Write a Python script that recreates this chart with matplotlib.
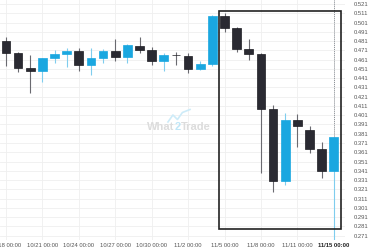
import matplotlib
matplotlib.use("Agg")
import matplotlib.pyplot as plt
from matplotlib.patches import Rectangle
import numpy as np

# daily candles, 10/18 .. 11/14
dates = ["10/18", "10/19", "10/20", "10/21", "10/22", "10/23", "10/24", "10/25",
         "10/26", "10/27", "10/28", "10/29", "10/30", "10/31", "11/1", "11/2",
         "11/3", "11/4", "11/5", "11/6", "11/7", "11/8", "11/9", "11/10",
         "11/11", "11/12", "11/13", "11/14"]
opens = [0.4811, 0.4678, 0.4520, 0.4484, 0.4631, 0.4674, 0.4703, 0.4549,
         0.4624, 0.4703, 0.4635, 0.4760, 0.4714, 0.4598, 0.4660, 0.4646,
         0.4509, 0.4563, 0.5084, 0.4948, 0.4725, 0.4667, 0.4074, 0.3304,
         0.3955, 0.3851, 0.3643, 0.3412]
highs = [0.4857, 0.4689, 0.4660, 0.4628, 0.4714, 0.4735, 0.4739, 0.4735,
         0.4725, 0.4832, 0.4775, 0.4851, 0.4746, 0.4685, 0.4692, 0.4678,
         0.4595, 0.5091, 0.5113, 0.4959, 0.4832, 0.4678, 0.4117, 0.4037,
         0.4020, 0.3894, 0.3725, 0.3772]
lows = [0.4544, 0.4480, 0.4247, 0.4369, 0.4577, 0.4534, 0.4491, 0.4447,
        0.4577, 0.4598, 0.4577, 0.4678, 0.4549, 0.4491, 0.4552, 0.4462,
        0.4498, 0.4544, 0.4905, 0.4689, 0.4603, 0.3390, 0.3185, 0.3258,
        0.3671, 0.3599, 0.3336, 0.3412]
closes = [0.4678, 0.4523, 0.4487, 0.4628, 0.4671, 0.4703, 0.4549, 0.4624,
          0.4703, 0.4635, 0.4764, 0.4717, 0.4598, 0.4657, 0.4655, 0.4512,
          0.4560, 0.5081, 0.4948, 0.4725, 0.4667, 0.4074, 0.3304, 0.3955,
          0.3894, 0.3646, 0.3412, 0.3772]

tick_days = [0, 3, 6, 9, 12, 15, 18, 21, 24]
tick_labels = ["10/18 00:00", "10/21 00:00", "10/24 00:00", "10/27 00:00",
               "10/30 00:00", "11/2 00:00", "11/5 00:00", "11/8 00:00", "11/11 00:00"]
now_label = "11/15 00:00"

# highlighted pattern region
box_start, box_end = 17.55, 27.6
box_top, box_bottom = 0.5134, 0.2783

y_ticks = np.arange(0.271, 0.5215, 0.01)

UP = "#1aa7e0"
DOWN = "#2a2a32"
UP_WICK = "#7fcdee"
DOWN_WICK = "#6a6a70"

fig = plt.figure(figsize=(3.8, 2.5), dpi=100)
ax = fig.add_axes([0, 0.04, 345 / 380, 0.96])

x = np.arange(len(dates))
o = np.array(opens)
c = np.array(closes)
up = c >= o

ax.vlines(x, lows, highs, colors=np.where(up, UP_WICK, DOWN_WICK), linewidth=0.8, zorder=2)
ax.bar(x, np.maximum(np.abs(c - o), 0.0004), bottom=np.minimum(o, c), width=0.72,
       color=np.where(up, UP, DOWN), edgecolor=np.where(up, UP, "#1c1c22"),
       linewidth=0.5, zorder=3)

# current time marker
last = x[-1]
ax.axvline(last, color="#8a8f96", linestyle=(0, (1, 1)), linewidth=0.7, zorder=1)
ax.vlines(last, 0.2664, min(opens[-1], closes[-1]), color=UP_WICK, linewidth=0.8, zorder=2)

ax.add_patch(Rectangle((box_start, box_bottom), box_end - box_start, box_top - box_bottom,
                       fill=False, edgecolor="#222222", linewidth=1.2, zorder=4))

ax.set_xlim(-0.49, 27.92)
ax.set_ylim(0.2664, 0.5253)

ax.set_xticks(tick_days + [last])
ax.set_xticklabels(tick_labels + [now_label])
ax.set_yticks(y_ticks)
ax.set_yticklabels([f"{v:.3f}" for v in y_ticks])
ax.yaxis.tick_right()
ax.tick_params(axis="both", length=0, labelsize=4.2, labelcolor="#555555")
ax.tick_params(axis="x", pad=2)
ax.tick_params(axis="y", pad=6)
for lab in ax.get_xticklabels() + ax.get_yticklabels():
    lab.set_fontfamily("Liberation Sans")
ax.get_xticklabels()[-1].set_fontweight("bold")
ax.get_xticklabels()[-1].set_color("#222222")

ax.grid(True, color="#efefef", linewidth=0.6, zorder=0)
ax.set_axisbelow(True)
for s in ax.spines.values():
    s.set_visible(False)

# watermark
wm_y = 0.494
fig.text(0.387, wm_y, "What", fontsize=8, fontweight="bold", color="#dcdcdc",
         family="Liberation Sans", ha="left", va="center")
fig.text(0.459, wm_y, "2", fontsize=8, fontweight="bold", color="#bfe6f7",
         family="Liberation Sans", ha="left", va="center")
fig.text(0.475, wm_y, "Trade", fontsize=8, fontweight="bold", color="#dcdcdc",
         family="Liberation Sans", ha="left", va="center")
fig.lines.append(plt.Line2D([0.442, 0.455, 0.467, 0.48, 0.5], [0.512, 0.54, 0.522, 0.55, 0.562],
                            transform=fig.transFigure, color="#cdebf8", linewidth=1.2))

fig.savefig("out.png", dpi=100)
